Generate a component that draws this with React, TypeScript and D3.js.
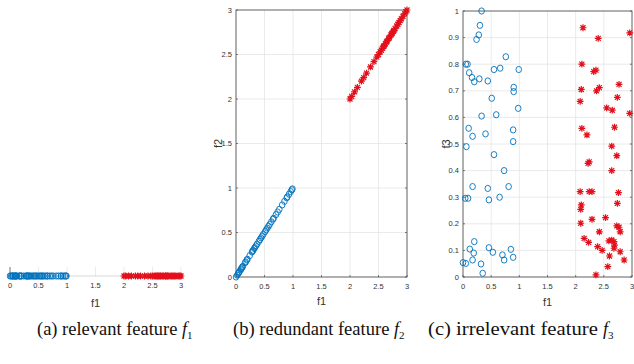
import React, { useEffect, useRef } from "react";
import * as d3 from "d3";

// f1 values of the two classes (class 1 in [0,1], class 2 in [2,3])
const f1Blue = [0.0, 0.02, 0.04, 0.05, 0.06, 0.08, 0.09, 0.1, 0.11, 0.12, 0.16, 0.17, 0.19, 0.2, 0.24, 0.28, 0.29, 0.3, 0.32, 0.33, 0.35, 0.37, 0.4, 0.42, 0.44, 0.46, 0.48, 0.51, 0.53, 0.55, 0.57, 0.59, 0.62, 0.65, 0.66, 0.7, 0.73, 0.76, 0.81, 0.85, 0.89, 0.9, 0.93, 0.96, 0.98, 0.99];
const f1Red = [2.0, 2.03, 2.08, 2.13, 2.2, 2.24, 2.29, 2.36, 2.42, 2.47, 2.5, 2.53, 2.55, 2.57, 2.59, 2.6, 2.62, 2.64, 2.65, 2.68, 2.69, 2.72, 2.73, 2.74, 2.76, 2.77, 2.79, 2.82, 2.84, 2.86, 2.88, 2.9, 2.93, 2.96, 2.98, 3.0];
// f2 is redundant: same values as f1
const f2Blue = [0.0, 0.02, 0.04, 0.05, 0.06, 0.08, 0.09, 0.1, 0.11, 0.12, 0.16, 0.17, 0.19, 0.2, 0.24, 0.28, 0.29, 0.3, 0.32, 0.33, 0.35, 0.37, 0.4, 0.42, 0.44, 0.46, 0.48, 0.51, 0.53, 0.55, 0.57, 0.59, 0.62, 0.65, 0.66, 0.7, 0.73, 0.76, 0.81, 0.85, 0.89, 0.9, 0.93, 0.96, 0.98, 0.99];
const f2Red = [2.0, 2.03, 2.08, 2.13, 2.2, 2.24, 2.29, 2.36, 2.42, 2.47, 2.5, 2.53, 2.55, 2.57, 2.59, 2.6, 2.62, 2.64, 2.65, 2.68, 2.69, 2.72, 2.73, 2.74, 2.76, 2.77, 2.79, 2.82, 2.84, 2.86, 2.88, 2.9, 2.93, 2.96, 2.98, 3.0];

// panel c: f1 vs irrelevant f3
const cBlueX = [0.33, 0.3, 0.28, 0.24, 0.05, 0.08, 0.76, 0.55, 0.66, 0.99, 0.11, 0.16, 0.2, 0.29, 0.44, 0.9, 0.9, 0.51, 0.98, 0.33, 0.59, 0.1, 0.17, 0.4, 0.89, 0.89, 0.06, 0.55, 0.73, 0.17, 0.44, 0.81, 0.04, 0.09, 0.46, 0.65, 0.2, 0.12, 0.19, 0.46, 0.53, 0.85, 0.17, 0.7, 0.73, 0.89, 0.0, 0.05, 0.32, 0.35];
const cBlueY = [1.0, 0.946, 0.91, 0.893, 0.8, 0.8, 0.828, 0.78, 0.785, 0.78, 0.768, 0.75, 0.734, 0.745, 0.737, 0.713, 0.697, 0.672, 0.634, 0.605, 0.61, 0.559, 0.529, 0.538, 0.553, 0.509, 0.49, 0.46, 0.4, 0.34, 0.333, 0.34, 0.296, 0.296, 0.29, 0.3, 0.133, 0.105, 0.09, 0.11, 0.093, 0.104, 0.064, 0.083, 0.064, 0.074, 0.054, 0.051, 0.049, 0.014];
const cRedX = [2.13, 2.4, 2.96, 2.11, 2.32, 2.36, 2.1, 2.37, 2.42, 2.77, 2.08, 2.74, 2.55, 2.65, 2.96, 2.11, 2.2, 2.69, 2.64, 2.73, 2.22, 2.24, 2.64, 2.08, 2.24, 2.29, 2.76, 2.74, 2.1, 2.09, 2.09, 2.29, 2.53, 2.42, 2.73, 2.77, 2.79, 2.15, 2.23, 2.59, 2.64, 2.68, 2.69, 2.39, 2.47, 2.68, 2.79, 2.6, 2.86, 2.57, 2.36];
const cRedY = [0.937, 0.897, 0.918, 0.8, 0.772, 0.778, 0.705, 0.7, 0.712, 0.724, 0.66, 0.675, 0.636, 0.627, 0.615, 0.559, 0.534, 0.563, 0.492, 0.456, 0.427, 0.433, 0.4, 0.321, 0.321, 0.321, 0.317, 0.277, 0.271, 0.254, 0.202, 0.217, 0.223, 0.17, 0.192, 0.187, 0.17, 0.145, 0.13, 0.136, 0.139, 0.133, 0.12, 0.114, 0.1, 0.108, 0.095, 0.079, 0.064, 0.039, 0.008];

const xTicks = [0, 0.5, 1, 1.5, 2, 2.5, 3];
const f2Ticks = [0, 0.5, 1, 1.5, 2, 2.5, 3];
const f3Ticks = [0, 0.1, 0.2, 0.3, 0.4, 0.5, 0.6, 0.7, 0.8, 0.9, 1];
const captions = [
  { pre: "(a) relevant feature ", sub: "1" },
  { pre: "(b) redundant feature ", sub: "2" },
  { pre: "(c) irrelevant feature ", sub: "3" },
];

const BLUE = "#0072BD";
const RED = "#e3101c";
const GRID = "#e4e4e4";
const AXIS = "#4a4a4a";
const TICKFONT = "'Liberation Sans', Arial, sans-serif";

export default function App() {
  const ref = useRef<SVGSVGElement>(null);

  useEffect(() => {
    const svg = d3.select(ref.current);
    svg.selectAll("*").remove();

    function star(g: any, x: number, y: number) {
      const r = 3.4, d = 2.5;
      g.append("path")
        .attr("d", `M${x - r},${y}H${x + r}M${x},${y - r}V${y + r}M${x - d},${y - d}L${x + d},${y + d}M${x - d},${y + d}L${x + d},${y - d}`)
        .attr("stroke", RED)
        .attr("stroke-width", 1.2)
        .attr("fill", "none");
    }
    function circ(g: any, x: number, y: number) {
      g.append("ellipse")
        .attr("cx", x).attr("cy", y).attr("rx", 2.8).attr("ry", 3.1)
        .attr("fill", "none")
        .attr("stroke", BLUE)
        .attr("stroke-width", 0.9);
    }

    // axes box with grid, ticks and labels
    function frame(g: any, x: any, y: any, yTicks: number[], yFmt: (d: number) => string) {
      const [x0, x1] = x.range();
      const [y0, y1] = y.range();
      xTicks.forEach((t) => {
        g.append("line").attr("x1", x(t)).attr("x2", x(t)).attr("y1", y0).attr("y2", y1)
          .attr("stroke", GRID).attr("stroke-width", 0.8);
      });
      yTicks.forEach((t) => {
        g.append("line").attr("x1", x0).attr("x2", x1).attr("y1", y(t)).attr("y2", y(t))
          .attr("stroke", GRID).attr("stroke-width", 0.8);
      });
      g.append("rect").attr("x", x0).attr("y", y1).attr("width", x1 - x0).attr("height", y0 - y1)
        .attr("fill", "none").attr("stroke", AXIS).attr("stroke-width", 0.8);
      xTicks.forEach((t) => {
        g.append("line").attr("x1", x(t)).attr("x2", x(t)).attr("y1", y0).attr("y2", y0 - 2)
          .attr("stroke", AXIS).attr("stroke-width", 0.7);
        g.append("text").attr("x", x(t)).attr("y", y0 + 12).attr("text-anchor", "middle")
          .attr("font-family", TICKFONT).attr("font-size", 7.5).attr("fill", "#333")
          .text(d3.format("~g")(t));
      });
      yTicks.forEach((t) => {
        g.append("line").attr("x1", x0).attr("x2", x0 + 2).attr("y1", y(t)).attr("y2", y(t))
          .attr("stroke", AXIS).attr("stroke-width", 0.7);
        g.append("line").attr("x1", x1).attr("x2", x1 - 2).attr("y1", y(t)).attr("y2", y(t))
          .attr("stroke", AXIS).attr("stroke-width", 0.7);
        g.append("text").attr("x", x0 - 4).attr("y", y(t) + 2.6).attr("text-anchor", "end")
          .attr("font-family", TICKFONT).attr("font-size", 7.5).attr("fill", "#333")
          .text(yFmt(t));
      });
    }

    // ---- panel (a): one-dimensional
    const xa = d3.scaleLinear().domain([0, 3]).range([10, 181]);
    const ya = 276;
    const ga = svg.append("g");
    xTicks.forEach((t) => {
      ga.append("line").attr("x1", xa(t)).attr("x2", xa(t)).attr("y1", ya - 9).attr("y2", ya)
        .attr("stroke", GRID).attr("stroke-width", 0.8);
    });
    ga.append("line").attr("x1", xa(0)).attr("x2", xa(3)).attr("y1", ya).attr("y2", ya)
      .attr("stroke", "#cfcfcf").attr("stroke-width", 0.8);
    ga.append("line").attr("x1", xa(0)).attr("x2", xa(0)).attr("y1", ya - 9).attr("y2", ya)
      .attr("stroke", AXIS).attr("stroke-width", 0.7);
    xTicks.forEach((t) => {
      ga.append("text").attr("x", xa(t)).attr("y", ya + 12).attr("text-anchor", "middle")
        .attr("font-family", TICKFONT).attr("font-size", 7.5).attr("fill", "#333")
        .text(d3.format("~g")(t));
    });
    f1Blue.forEach((v) => circ(ga, xa(v), ya));
    f1Red.forEach((v) => star(ga, xa(v), ya));
    ga.append("text").attr("x", xa(1.5)).attr("y", 307).attr("text-anchor", "middle")
      .attr("font-family", TICKFONT).attr("font-size", 11).attr("fill", "#333").text("f1");

    // ---- panel (b): f1 vs f2
    const xb = d3.scaleLinear().domain([0, 3]).range([236, 407]);
    const yb = d3.scaleLinear().domain([0, 3]).range([277, 10]);
    const gb = svg.append("g");
    frame(gb, xb, yb, f2Ticks, d3.format("~g"));
    f1Blue.forEach((v, i) => circ(gb, xb(v), yb(f2Blue[i])));
    f1Red.forEach((v, i) => star(gb, xb(v), yb(f2Red[i])));
    gb.append("text").attr("x", xb(1.5)).attr("y", 305).attr("text-anchor", "middle")
      .attr("font-family", TICKFONT).attr("font-size", 11).attr("fill", "#333").text("f1");
    gb.append("text").attr("transform", `translate(222,${yb(1.5)}) rotate(-90)`)
      .attr("text-anchor", "middle")
      .attr("font-family", TICKFONT).attr("font-size", 11).attr("fill", "#333").text("f2");

    // ---- panel (c): f1 vs f3
    const xc = d3.scaleLinear().domain([0, 3]).range([463, 632]);
    const yc = d3.scaleLinear().domain([0, 1]).range([277, 11]);
    const gc = svg.append("g");
    frame(gc, xc, yc, f3Ticks, d3.format("~g"));
    cBlueX.forEach((v, i) => circ(gc, xc(v), yc(cBlueY[i])));
    cRedX.forEach((v, i) => star(gc, xc(v), yc(cRedY[i])));
    gc.append("text").attr("x", xc(1.5)).attr("y", 306).attr("text-anchor", "middle")
      .attr("font-family", TICKFONT).attr("font-size", 11).attr("fill", "#333").text("f1");
    gc.append("text").attr("transform", `translate(450,${yc(0.5)}) rotate(-90)`)
      .attr("text-anchor", "middle")
      .attr("font-family", TICKFONT).attr("font-size", 11).attr("fill", "#333").text("f3");

    // ---- captions
    const capX = [37, 233, 428];
    const capW = [145, 161, 175];
    captions.forEach((c, i) => {
      const t = svg.append("text").attr("x", capX[i]).attr("y", 335)
        .attr("font-family", "Liberation Serif, DejaVu Serif, serif")
        .attr("font-size", 18).attr("fill", "#111");
      t.append("tspan").attr("textLength", capW[i]).attr("lengthAdjust", "spacingAndGlyphs").text(c.pre);
      t.append("tspan").attr("font-style", "italic").text("f");
      t.append("tspan").attr("font-size", 11).attr("dy", 4).text(c.sub);
    });
  }, []);

  return (
    <svg
      ref={ref}
      width={634}
      height={364}
      style={{ position: "absolute", left: 0, top: 0, background: "#fff" }}
    />
  );
}
